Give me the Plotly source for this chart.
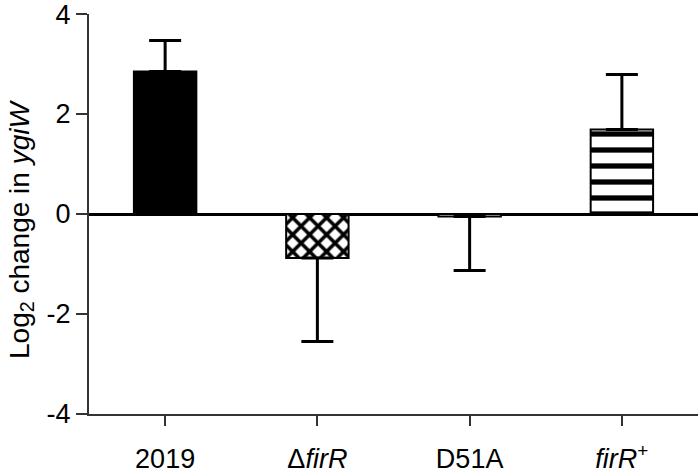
import plotly.graph_objects as go

categories = ["2019", "Δ<i>firR</i>", "D51A", "<i>firR</i><sup>+</sup>"]
means = [2.85, -0.88, -0.05, 1.69]
err_plus = [0.62, 0.0, 0.0, 1.10]
err_minus = [0.0, 1.67, 1.08, 0.0]
y_ticks = [-4, -2, 0, 2, 4]
y_tick_labels = ["-4", "-2", "0", "2", "4"]
y_title = "Log<sub>2</sub> change in <i>ygiW</i>"

pattern_shapes = ["", "x", "", "-"]
pattern_sizes = [8, 12, 8, 16]
pattern_solid = [0.3, 0.5, 0.3, 0.33]
fill_colors = ["black", "white", "white", "white"]

fig = go.Figure()
for i, cat in enumerate(categories):
    pat = dict(shape=pattern_shapes[i], size=pattern_sizes[i], solidity=pattern_solid[i],
               fgcolor="black", bgcolor="white", fgopacity=1, fillmode="replace")
    fig.add_trace(go.Bar(
        x=[cat],
        y=[means[i]],
        width=0.41,
        marker=dict(color=fill_colors[i], line=dict(color="black", width=2), pattern=pat),
        error_y=dict(type="data", symmetric=False, array=[err_plus[i]], arrayminus=[err_minus[i]],
                     color="black", thickness=3, width=16),
    ))

fig.update_layout(
    width=700, height=473,
    margin=dict(l=89, r=2, t=14, b=59),
    paper_bgcolor="white", plot_bgcolor="white",
    showlegend=False,
    barmode="overlay",
    font=dict(family="Arial, Liberation Sans, sans-serif", color="black"),
)
fig.update_xaxes(
    showline=True, linecolor="#333333", linewidth=2,
    ticks="outside", ticklen=10, tickwidth=2, tickcolor="#333333",
    tickfont=dict(size=27), ticklabelstandoff=10,
    range=[-0.5, 3.5], showgrid=False,
    categoryorder="array", categoryarray=categories,
    automargin=False,
)
fig.update_yaxes(
    range=[-4.001, 4.001], tickvals=y_ticks, ticktext=y_tick_labels, showgrid=False,
    showline=True, linecolor="#333333", linewidth=2,
    ticks="outside", ticklen=11, tickwidth=2, tickcolor="#333333",
    tickfont=dict(size=27), ticklabelstandoff=0, ticklabeloverflow="allow",
    zeroline=True, zerolinecolor="black", zerolinewidth=3,
    layer="above traces", automargin=False,
)
fig.add_annotation(
    text=y_title, textangle=-90, showarrow=False,
    xref="paper", yref="paper", x=-0.112, y=0.462,
    xanchor="center", yanchor="middle",
    font=dict(size=28),
)

fig.write_html(
    "out.html",
    config={"displayModeBar": False},
    post_script="document.body.style.margin='0';document.body.style.overflow='hidden';",
)
